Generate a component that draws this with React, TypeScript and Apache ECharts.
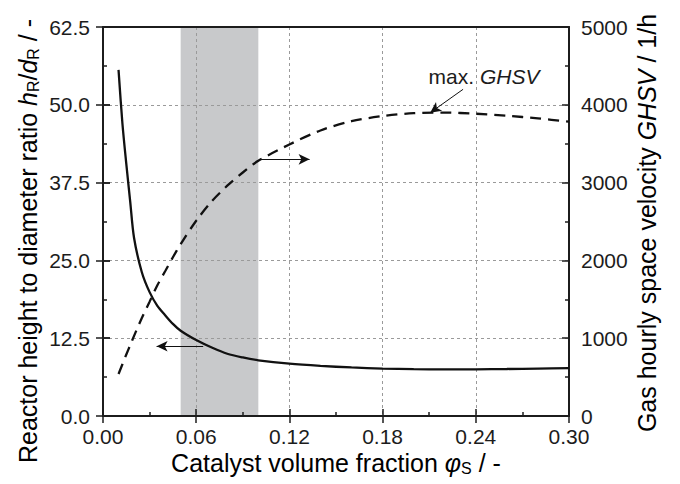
import React, { useEffect, useRef } from 'react';
import * as echarts from 'echarts';

// Catalyst volume fraction (x)
const xFraction = [0.010, 0.0125, 0.015, 0.0175, 0.020, 0.025, 0.030, 0.035, 0.040, 0.045, 0.050, 0.060, 0.070, 0.080, 0.090, 0.100, 0.120, 0.140, 0.160, 0.180, 0.200, 0.220, 0.240, 0.260, 0.280, 0.300];
// Reactor height to diameter ratio (left axis, solid)
const ratioHD = [55.6, 47.0, 40.5, 34.5, 28.6, 23.1, 19.9, 17.7, 16.2, 14.8, 13.7, 12.2, 11.0, 10.0, 9.4, 8.95, 8.4, 8.05, 7.8, 7.62, 7.52, 7.5, 7.5, 7.55, 7.62, 7.7];
// Gas hourly space velocity (right axis, dashed)
const ghsv = [540, 665, 790, 910, 1030, 1260, 1470, 1680, 1860, 2040, 2210, 2510, 2760, 2960, 3130, 3280, 3490, 3670, 3790, 3855, 3893, 3900, 3885, 3860, 3825, 3783];

// Axis ranges
const xRange = [0, 0.3, 0.06];
const leftRange = [0, 62.5, 12.5];
const rightRange = [0, 5000, 1000];

// Shaded band (catalyst fraction range)
const band = [0.05, 0.10];

// Annotation arrows in data coordinates
const leftArrow = [[0.0645, 11.2], [0.0345, 11.2]];
const rightArrow = [[0.1015, 3299], [0.133, 3299]];
const maxArrow = [[0.2318, 4199], [0.2106, 3898]];
const maxLabel = [0.2453, 4361];

const FONT = "'Liberation Sans', Arial, Helvetica, sans-serif";
const INK = '#1c1c1c';

export default function App() {
  const ref = useRef<HTMLDivElement>(null);
  useEffect(() => {
    if (!ref.current) return;
    const chart = echarts.init(ref.current, undefined, { renderer: 'svg' });

    const tickLabel = { fontFamily: FONT, fontSize: 21, color: INK };
    const gridLine = { show: true, lineStyle: { color: '#9a9a9a', type: [3, 3] as any, width: 1 } };
    const axLine = { show: true, onZero: false, lineStyle: { color: INK, width: 2 } };

    const titleRich = {
      n: { fontFamily: FONT, fontSize: 25, lineHeight: 30, color: INK },
      i: { fontFamily: FONT, fontSize: 25, lineHeight: 30, fontStyle: 'italic', color: INK },
      s: { fontFamily: FONT, fontSize: 16, lineHeight: 20, padding: [10, 0, 0, 0], color: INK },
    };

    const baseX = { type: 'value', min: xRange[0], max: xRange[1], interval: xRange[2], gridIndex: 0, z: 2 };
    const baseL = { type: 'value', min: leftRange[0], max: leftRange[1], interval: leftRange[2], z: 2 };
    const baseR = { type: 'value', min: rightRange[0], max: rightRange[1], interval: rightRange[2], z: 2 };

    const option: any = {
      animation: false,
      grid: { left: 103, right: 111, top: 27, bottom: 68, containLabel: false },
      xAxis: [
        {
          ...baseX, position: 'bottom',
          axisLine: axLine,
          axisTick: { show: true, inside: true, length: 7, lineStyle: { color: INK, width: 1.5 } },
          minorTick: { show: true, splitNumber: 2, length: 4, lineStyle: { color: INK, width: 1.5 } },
          axisLabel: { ...tickLabel, margin: 10, formatter: (v: number) => v.toFixed(2) },
          splitLine: gridLine,
        },
        {
          ...baseX, position: 'bottom',
          axisLine: { show: false },
          axisTick: { show: true, inside: false, length: 7, lineStyle: { color: INK, width: 1.5 } },
          axisLabel: { show: false }, splitLine: { show: false },
        },
        {
          ...baseX, position: 'top',
          axisLine: axLine, axisTick: { show: false }, axisLabel: { show: false }, splitLine: { show: false },
        },
      ],
      yAxis: [
        {
          ...baseL, position: 'left',
          axisLine: axLine,
          axisTick: { show: true, inside: true, length: 7, lineStyle: { color: INK, width: 1.5 } },
          minorTick: { show: true, splitNumber: 2, length: 4, lineStyle: { color: INK, width: 1.5 } },
          axisLabel: { ...tickLabel, margin: 13, formatter: (v: number) => v.toFixed(1) },
          splitLine: gridLine,
        },
        {
          ...baseL, position: 'left',
          axisLine: { show: false },
          axisTick: { show: true, inside: false, length: 7, lineStyle: { color: INK, width: 1.5 } },
          axisLabel: { show: false }, splitLine: { show: false },
        },
        {
          ...baseR, position: 'right',
          axisLine: axLine,
          axisTick: { show: true, inside: true, length: 7, lineStyle: { color: INK, width: 1.5 } },
          minorTick: { show: true, splitNumber: 2, length: 4, lineStyle: { color: INK, width: 1.5 } },
          axisLabel: { ...tickLabel, margin: 12, formatter: (v: number) => String(v) },
          splitLine: { show: false },
        },
        {
          ...baseR, position: 'right',
          axisLine: { show: false },
          axisTick: { show: true, inside: false, length: 7, lineStyle: { color: INK, width: 1.5 } },
          axisLabel: { show: false }, splitLine: { show: false },
        },
      ],
      series: [
        {
          type: 'custom',
          xAxisIndex: 0, yAxisIndex: 0, z: 1, silent: true,
          data: [[band[0], band[1]]],
          encode: { x: [0, 1] },
          renderItem: (_p: any, api: any) => {
            const a = api.coord([api.value(0), leftRange[1]]);
            const b = api.coord([api.value(1), leftRange[0]]);
            return {
              type: 'rect',
              shape: { x: a[0], y: a[1], width: b[0] - a[0], height: b[1] - a[1] },
              style: { fill: '#c8c9cb' },
            };
          },
        },
        {
          type: 'line', name: 'hR/dR', xAxisIndex: 0, yAxisIndex: 0, z: 3,
          data: xFraction.map((x, i) => [x, ratioHD[i]]),
          showSymbol: false, symbol: 'none', smooth: 0.3,
          lineStyle: { color: '#111', width: 2.3 },
          markLine: {
            silent: true, symbol: ['none', 'arrow'], symbolSize: [8, 11],
            label: { show: false },
            lineStyle: { color: '#111', width: 1, type: 'solid' },
            data: [[{ coord: leftArrow[0] }, { coord: leftArrow[1] }]],
          },
        },
        {
          type: 'line', name: 'GHSV', xAxisIndex: 0, yAxisIndex: 2, z: 3,
          data: xFraction.map((x, i) => [x, ghsv[i]]),
          showSymbol: false, symbol: 'none', smooth: 0.3,
          lineStyle: { color: '#111', width: 2.3, type: [11, 7] },
          markLine: {
            silent: true, symbol: ['none', 'arrow'], symbolSize: [8, 11],
            label: { show: false },
            lineStyle: { color: '#111', width: 1, type: 'solid' },
            data: [
              [{ coord: rightArrow[0] }, { coord: rightArrow[1] }],
              [{ coord: maxArrow[0] }, { coord: maxArrow[1] }],
            ],
          },
          markPoint: {
            silent: true, symbol: 'circle', symbolSize: 0,
            data: [{
              coord: maxLabel,
              label: {
                show: true, position: 'inside',
                formatter: '{n|max. }{i|GHSV}',
                rich: {
                  n: { fontFamily: FONT, fontSize: 21, color: INK },
                  i: { fontFamily: FONT, fontSize: 21, fontStyle: 'italic', color: INK },
                },
              },
            }],
          },
        },
      ],
      graphic: [
        {
          type: 'text', x: 28, y: 241, rotation: Math.PI / 2,
          style: {
            text: '{n|Reactor height to diameter ratio }{i|h}{s|R}{n|/}{i|d}{s|R}{n| / -}',
            rich: titleRich, align: 'center', verticalAlign: 'middle',
          },
        },
        {
          type: 'text', x: 647, y: 223, rotation: Math.PI / 2,
          style: {
            text: '{n|Gas hourly space velocity }{i|GHSV}{n| / 1/h}',
            rich: titleRich, align: 'center', verticalAlign: 'middle',
          },
        },
        {
          type: 'text', x: 336, y: 463,
          style: {
            text: '{n|Catalyst volume fraction }{i|φ}{s|S}{n| / -}',
            rich: titleRich, align: 'center', verticalAlign: 'middle',
          },
        },
      ],
    };
    chart.setOption(option);
    return () => chart.dispose();
  }, []);
  return <div ref={ref} style={{ position: 'fixed', left: 0, top: 0, width: 680, height: 484, background: '#fff' }} />;
}
